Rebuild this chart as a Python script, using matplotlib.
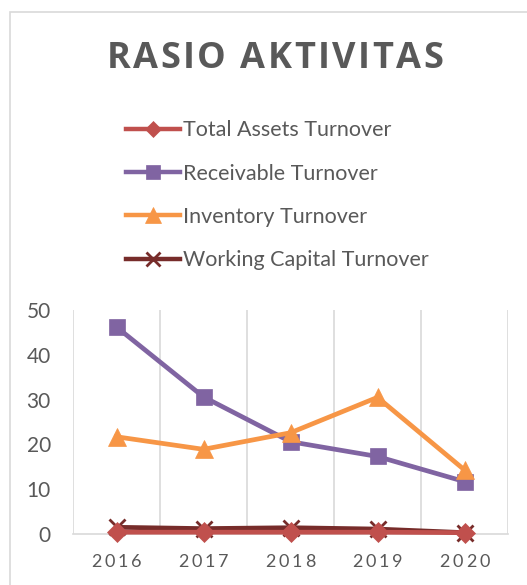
import matplotlib
matplotlib.use('Agg')
import matplotlib.pyplot as plt
from matplotlib.lines import Line2D
from matplotlib.patches import Rectangle

years = ['2016', '2017', '2018', '2019', '2020']
total_assets = [0.4, 0.4, 0.4, 0.4, 0.3]
receivable = [46.2, 30.6, 20.6, 17.3, 11.7]
inventory = [21.7, 18.9, 22.6, 30.5, 14.3]
working_capital = [1.5, 1.2, 1.4, 1.1, 0.3]

series_names = ['Total Assets Turnover', 'Receivable Turnover',
                'Inventory Turnover', 'Working Capital Turnover']
colors = ['#C0504D', '#8064A2', '#F79646', '#772C2A']
markers = ['D', 's', '^', 'x']

W, H = 527, 585
fig = plt.figure(figsize=(W / 100, H / 100), dpi=100)
txt = '#595959'
font = ['Lato', 'DejaVu Sans']

# chart frame
fig.patches.append(Rectangle((10 / W, -0.1), 1.1, 1 - 12 / H + 0.1, transform=fig.transFigure,
                             fill=False, edgecolor='#D9D9D9', linewidth=1.2))


def spaced_text(x_px, y_px, s, gap, **kw):
    # draw string char by char with extra letter spacing, centered at x_px
    r = fig.canvas.get_renderer()
    widths = []
    for ch in s:
        t = fig.text(0, 0, ch, **kw)
        widths.append(t.get_window_extent(r).width)
        t.remove()
    total = sum(widths) + gap * (len(s) - 1)
    x = x_px - total / 2
    for ch, w in zip(s, widths):
        fig.text(x / W, 1 - y_px / H, ch, ha='left', va='center', **kw)
        x += w + gap


spaced_text(275, 59, 'RASIO AKTIVITAS', 2.5, fontsize=26, fontweight='bold',
            color=txt, family=['Open Sans', 'DejaVu Sans'])

ax = fig.add_axes([73 / W, 1 - 534 / H, (508 - 73) / W, (534 - 310) / H])
x = range(len(years))
data = [total_assets, receivable, inventory, working_capital]
order = [3, 0, 2, 1]
sizes = {'s': 12, 'D': 10, '^': 13, 'x': 12}
handles = []
for i, (name, vals, c, m) in enumerate(zip(series_names, data, colors, markers)):
    ms = sizes[m]
    ax.plot(x, vals, color=c, linewidth=3.4, marker=m, markersize=ms,
            markeredgewidth=2 if m == 'x' else 0.5, markeredgecolor=c,
            zorder=3 + order[i], clip_on=False)
    handles.append(Line2D([], [], color=c, linewidth=3.2, marker=m,
                          markersize=ms * 0.85, markeredgecolor=c,
                          markeredgewidth=2 if m == 'x' else 0.5))

ax.set_xlim(-0.5, 4.5)
ax.set_ylim(0, 50)
ax.set_yticks([0, 10, 20, 30, 40, 50])
ax.set_xticks([-0.5, 0.5, 1.5, 2.5, 3.5, 4.5], minor=False)
ax.set_xticklabels([])
ax.grid(axis='x', color='#D9D9D9', linewidth=1.2)
for s in ['top', 'right', 'left']:
    ax.spines[s].set_visible(False)
ax.spines['bottom'].set_color('#D9D9D9')
ax.spines['bottom'].set_linewidth(1.2)
ax.tick_params(axis='both', length=0)
ax.tick_params(axis='y', labelsize=15, labelcolor=txt, pad=16)
for lab in ax.get_yticklabels():
    lab.set_family(font)

# year labels with letter spacing
fig.canvas.draw()
for i, yr in enumerate(years):
    xp = ax.transData.transform((i, 0))[0]
    spaced_text(xp, 562, yr, 3, fontsize=13, color=txt, family=font)

fig.legend(handles, series_names, loc='upper left', bbox_to_anchor=(107 / W, 1 - 101 / H),
           frameon=False, handlelength=2.5, handletextpad=0.12, labelspacing=1.08,
           prop={'family': font, 'size': 15.5}, labelcolor=txt)

fig.savefig('out.png', dpi=100)
